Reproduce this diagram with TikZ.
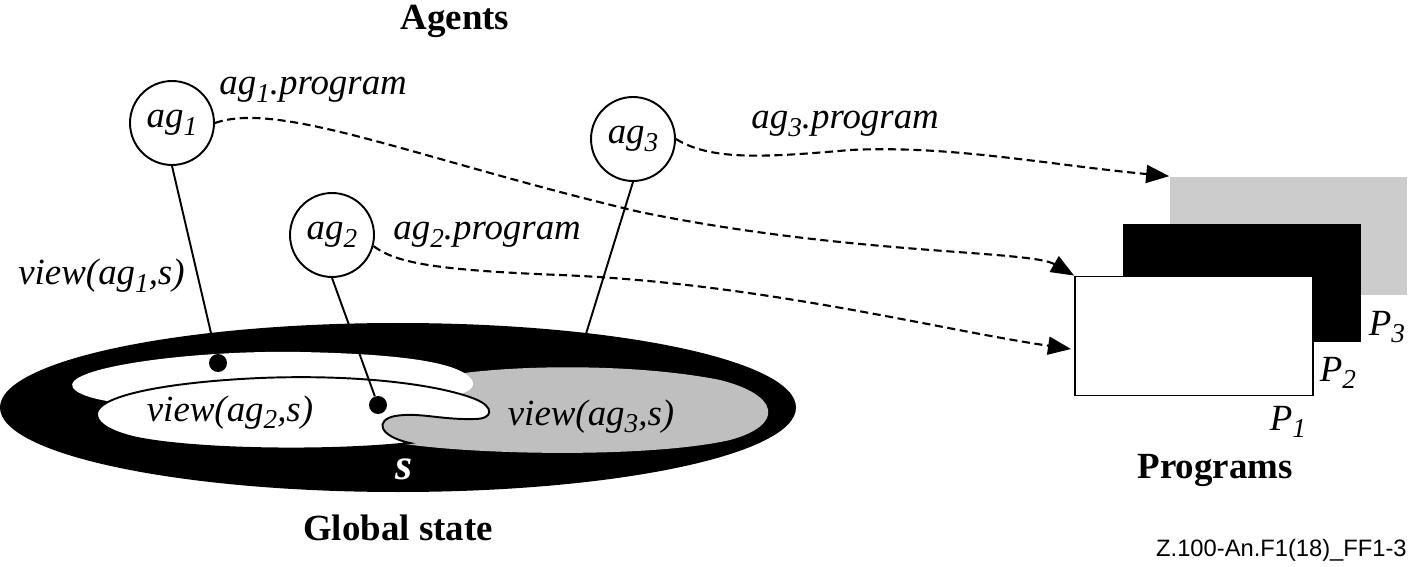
\documentclass[tikz,border=0pt]{standalone}
\usepackage{fontspec}
\setmainfont{Liberation Serif}
\newfontfamily\codefont{Liberation Sans}
\usetikzlibrary{arrows.meta}
\definecolor{viewgrey}{gray}{0.75}
\definecolor{progrey}{gray}{0.8}
\def\lbl{\fontsize{21}{25}\selectfont}
\newcommand\ix[1]{\raisebox{-0.45ex}{\fontsize{15.5}{16}\selectfont #1}}

\begin{document}
\begin{tikzpicture}[x=0.02cm,y=-0.02cm,
    agent/.style={circle,draw,line width=1.1pt,minimum size=1.68cm,inner sep=0pt,font=\lbl\itshape},
    dot/.style={circle,fill,inner sep=0pt,minimum size=0.36cm},
    link/.style={line width=1.1pt},
    prog/.style={line width=1.2pt,dash pattern=on 4.6pt off 2.6pt,-{Triangle[length=0.46cm,width=0.36cm]}},
    page/.style={rectangle,inner sep=0pt,minimum width=4.76cm,minimum height=2.38cm},
    txt/.style={font=\lbl\itshape,inner sep=0pt},
    title/.style={font=\lbl\bfseries,inner sep=0pt}]
  \useasboundingbox (0,0) rectangle (1409,567);

  % global state and the views
  \fill (398,407.5) ellipse [x radius=398, y radius=84.5];
  \fill[viewgrey] (405,444) .. controls (480,455) and (650,458) .. (730,440)
     .. controls (785,425) and (780,395) .. (720,380)
     .. controls (640,364) and (520,364) .. (450,375) -- (370,430) -- cycle;
  \fill[white] (73,388) .. controls (60,368) and (190,350) .. (300,352)
     .. controls (400,354) and (460,362) .. (472,380)
     .. controls (476,388) and (468,392) .. (455,396) -- (200,404)
     .. controls (150,404) and (115,403) .. (107,401)
     .. controls (90,398) and (78,394) .. (73,388) -- cycle;
  \filldraw[fill=white,line width=1.1pt] (97,413) .. controls (100,395) and (170,382) .. (260,378)
     .. controls (360,374) and (440,385) .. (475,399)
     .. controls (495,407) and (493,419) .. (475,419)
     .. controls (440,420) and (420,412) .. (395,416)
     .. controls (375,420) and (378,436) .. (410,443)
     .. controls (330,452) and (190,450) .. (133,437)
     .. controls (105,430) and (96,421) .. (97,413) -- cycle;
  \node[txt,anchor=base] (v2) at (230,421) {view(ag\ix{2},s)};
  \node[txt,anchor=base] (v3) at (591,425) {view(ag\ix{3},s)};
  \node[font=\fontsize{25}{28}\selectfont\bfseries\itshape,text=white,inner sep=0pt] (s) at (404,469) {s};
  \node[title] (global) at (398,528) {Global state};

  % agents
  \node[title] (agents) at (455,21) {Agents};
  \node[agent] (ag1) at (172,123) {ag\ix{1}};
  \node[agent] (ag2) at (332,235) {ag\ix{2}};
  \node[agent] (ag3) at (633,139) {ag\ix{3}};
  \node[dot] (d1) at (218,363) {};
  \node[dot] (d2) at (378,405) {};
  \coordinate (e3) at (581,350);
  \draw[link] (ag1.south) -- (d1);
  \draw[link] (ag2.south) -- (d2);
  \draw[link] (ag3.south) -- (e3);
  \node[txt,anchor=base west] (l1) at (219,95) {ag\ix{1}.program};
  \node[txt,anchor=base west] (l2) at (393,240) {ag\ix{2}.program};
  \node[txt,anchor=base west] (l3) at (751,129) {ag\ix{3}.program};
  \node[txt,anchor=base west] (v1) at (18,285) {view(ag\ix{1},s)};

  % programs
  \node[page,fill=progrey] (p3) at (1288.5,236) {};
  \node[page,fill=black] (p2) at (1242,283) {};
  \node[page,fill=white,draw,line width=1.1pt] (p1) at (1194,336) {};
  \node[txt] (n3) at (1387,327) {P\ix{3}};
  \node[txt] (n2) at (1338,373) {P\ix{2}};
  \node[txt] (n1) at (1288,422) {P\ix{1}};
  \node[title] (programs) at (1215,470) {Programs};
  \coordinate (t2) at (1071,349);

  \draw[prog] (ag1.east) .. controls (280,100) and (420,160) .. (640,212)
     .. controls (850,255) and (1030,250) .. (p1.north west);
  \draw[prog] (ag2.-15) .. controls (395,262) and (430,270) .. (560,275)
     .. controls (760,283) and (940,330) .. (t2);
  \draw[prog] (ag3.east) .. controls (710,160) and (760,158) .. (850,150)
     .. controls (950,145) and (1050,165) .. (p3.north west);

  \node[font=\codefont\fontsize{13.5}{16}\selectfont,anchor=east,inner sep=0pt] (code) at (1407,550) {Z.100-An.F1(18)\_FF1-3};
\end{tikzpicture}
\end{document}
